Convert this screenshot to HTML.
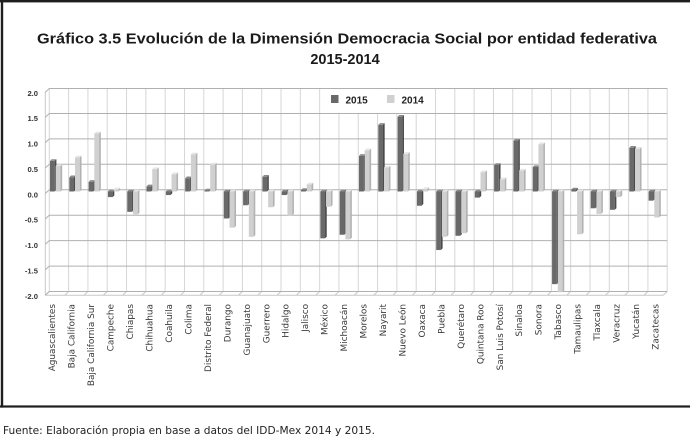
<!DOCTYPE html>
<html><head><meta charset="utf-8"><style>
html,body{margin:0;padding:0;background:#fff;}
svg{display:block;}
.D rect{fill:#696969}.D .s{fill:#4a4a4a}.D .t{fill:#8a8a8a}
.L rect{fill:#d0d0d0}.L .s{fill:#b2b2b2}.L .t{fill:#e6e6e6}
.xl{font-family:"DejaVu Sans","Liberation Sans",sans-serif;font-size:8.9px;fill:#3a3a3a}
.yl{font-family:"Liberation Sans",sans-serif;font-size:7.6px;font-weight:bold;fill:#333;text-anchor:end}
</style></head><body>
<svg width="690" height="441" viewBox="0 0 690 441" xmlns="http://www.w3.org/2000/svg">
<rect x="0" y="0" width="690" height="441" fill="#fff"/>
<!-- frame -->
<rect x="0" y="0" width="690" height="2.4" fill="#1e1e1e"/>
<rect x="0.8" y="0" width="2.4" height="407.6" fill="#1e1e1e"/>
<rect x="0" y="405.4" width="690" height="2.2" fill="#1e1e1e"/>
<!-- title -->
<text x="37" y="43.3" textLength="620" lengthAdjust="spacingAndGlyphs" font-family="Liberation Sans, sans-serif" font-weight="bold" font-size="14.5" fill="#1a1a1a">Gráfico 3.5  Evolución de la Dimensión Democracia Social por entidad federativa</text>
<text x="345" y="64" text-anchor="middle" font-family="Liberation Sans, sans-serif" font-weight="bold" font-size="14.5" fill="#1a1a1a">2015-2014</text>
<!-- vertical gridlines -->
<path fill="none" stroke="#d6d6d6" stroke-width="1" d="M49.3 88V291.5M68.61 88V291.5M87.92 88V291.5M107.23 88V291.5M126.54 88V291.5M145.85 88V291.5M165.16 88V291.5M184.47 88V291.5M203.78 88V291.5M223.09 88V291.5M242.4 88V291.5M261.71 88V291.5M281.02 88V291.5M300.33 88V291.5M319.64 88V291.5M338.95 88V291.5M358.26 88V291.5M377.57 88V291.5M396.88 88V291.5M416.19 88V291.5M435.5 88V291.5M454.81 88V291.5M474.12 88V291.5M493.43 88V291.5M512.74 88V291.5M532.05 88V291.5M551.36 88V291.5M570.67 88V291.5M589.98 88V291.5M609.29 88V291.5M628.6 88V291.5M647.91 88V291.5M667.22 88V291.5"/>
<!-- floor diagonals -->
<path fill="none" stroke="#c8c8c8" stroke-width="1" d="M49.3 291.5L45.3 295.2M68.61 291.5L64.61 295.2M87.92 291.5L83.92 295.2M107.23 291.5L103.23 295.2M126.54 291.5L122.54 295.2M145.85 291.5L141.85 295.2M165.16 291.5L161.16 295.2M184.47 291.5L180.47 295.2M203.78 291.5L199.78 295.2M223.09 291.5L219.09 295.2M242.4 291.5L238.4 295.2M261.71 291.5L257.71 295.2M281.02 291.5L277.02 295.2M300.33 291.5L296.33 295.2M319.64 291.5L315.64 295.2M338.95 291.5L334.95 295.2M358.26 291.5L354.26 295.2M377.57 291.5L373.57 295.2M396.88 291.5L392.88 295.2M416.19 291.5L412.19 295.2M435.5 291.5L431.5 295.2M454.81 291.5L450.81 295.2M474.12 291.5L470.12 295.2M493.43 291.5L489.43 295.2M512.74 291.5L508.74 295.2M532.05 291.5L528.05 295.2M551.36 291.5L547.36 295.2M570.67 291.5L566.67 295.2M589.98 291.5L585.98 295.2M609.29 291.5L605.29 295.2M628.6 291.5L624.6 295.2M647.91 291.5L643.91 295.2M667.22 291.5L663.22 295.2M45.3 295.2H663.22M45.3 91.7V295.2"/>
<!-- horizontal gridlines -->
<path fill="none" stroke="#b0b0b0" stroke-width="1" d="M49.3 88.5H667.2M49.3 113.5H667.2M49.3 138.9H667.2M49.3 164.3H667.2M49.3 189.8H667.2M49.3 215.2H667.2M49.3 240.6H667.2M49.3 266.1H667.2M49.3 291.5H667.2M45.3 92.2L49.3 88.5M45.3 117.2L49.3 113.5M45.3 142.6L49.3 138.9M45.3 168L49.3 164.3M45.3 193.5L49.3 189.8M45.3 218.9L49.3 215.2M45.3 244.3L49.3 240.6M45.3 269.8L49.3 266.1M45.3 295.2L49.3 291.5"/>
<!-- y labels -->
<text class="yl" x="38" y="96">2.0</text>
<text class="yl" x="38" y="121">1.5</text>
<text class="yl" x="38" y="146.4">1.0</text>
<text class="yl" x="38" y="171.8">0.5</text>
<text class="yl" x="38" y="197.3">0.0</text>
<text class="yl" x="38" y="222.7">-0.5</text>
<text class="yl" x="38" y="248.1">-1.0</text>
<text class="yl" x="38" y="273.6">-1.5</text>
<text class="yl" x="38" y="299">-2.0</text>
<!-- legend -->
<rect x="322" y="89.2" width="111" height="23.6" fill="#fff"/>
<rect x="331" y="95" width="7.5" height="8" fill="#696969"/>
<text x="345.5" y="103.3" font-family="Liberation Sans, sans-serif" font-weight="bold" font-size="10" fill="#222">2015</text>
<rect x="387" y="95" width="7.5" height="8" fill="#d0d0d0"/>
<text x="401.5" y="103.3" font-family="Liberation Sans, sans-serif" font-weight="bold" font-size="10" fill="#222">2014</text>
<!-- bars 2015 -->
<g class="D">
<g transform="translate(50,160.93)"><rect width="4.7" height="30.57"/><path class="s" d="M4.7 0l1.7-1.7v30.57l-1.7 1.7z"/><path class="t" d="M0 0l1.7-1.7h4.7l-1.7 1.7z"/></g>
<g transform="translate(69.31,177.22)"><rect width="4.7" height="14.28"/><path class="s" d="M4.7 0l1.7-1.7v14.28l-1.7 1.7z"/><path class="t" d="M0 0l1.7-1.7h4.7l-1.7 1.7z"/></g>
<g transform="translate(88.62,181.8)"><rect width="4.7" height="9.7"/><path class="s" d="M4.7 0l1.7-1.7v9.7l-1.7 1.7z"/><path class="t" d="M0 0l1.7-1.7h4.7l-1.7 1.7z"/></g>
<g transform="translate(107.93,191.5)"><rect width="4.7" height="5.6"/><path class="s" d="M4.7 0l1.7-1.7v5.6l-1.7 1.7z"/><path class="t" d="M0 0l1.7-1.7h4.7l-1.7 1.7z"/></g>
<g transform="translate(127.24,191.5)"><rect width="4.7" height="20.36"/><path class="s" d="M4.7 0l1.7-1.7v20.36l-1.7 1.7z"/><path class="t" d="M0 0l1.7-1.7h4.7l-1.7 1.7z"/></g>
<g transform="translate(146.55,186.38)"><rect width="4.7" height="5.12"/><path class="s" d="M4.7 0l1.7-1.7v5.12l-1.7 1.7z"/><path class="t" d="M0 0l1.7-1.7h4.7l-1.7 1.7z"/></g>
<g transform="translate(165.86,191.5)"><rect width="4.7" height="3.56"/><path class="s" d="M4.7 0l1.7-1.7v3.56l-1.7 1.7z"/><path class="t" d="M0 0l1.7-1.7h4.7l-1.7 1.7z"/></g>
<g transform="translate(185.17,178.24)"><rect width="4.7" height="13.26"/><path class="s" d="M4.7 0l1.7-1.7v13.26l-1.7 1.7z"/><path class="t" d="M0 0l1.7-1.7h4.7l-1.7 1.7z"/></g>
<g transform="translate(204.48,190.45)"><rect width="4.7" height="1.05"/><path class="s" d="M4.7 0l1.7-1.7v1.05l-1.7 1.7z"/><path class="t" d="M0 0l1.7-1.7h4.7l-1.7 1.7z"/></g>
<g transform="translate(223.79,191.5)"><rect width="4.7" height="26.98"/><path class="s" d="M4.7 0l1.7-1.7v26.98l-1.7 1.7z"/><path class="t" d="M0 0l1.7-1.7h4.7l-1.7 1.7z"/></g>
<g transform="translate(243.1,191.5)"><rect width="4.7" height="13.74"/><path class="s" d="M4.7 0l1.7-1.7v13.74l-1.7 1.7z"/><path class="t" d="M0 0l1.7-1.7h4.7l-1.7 1.7z"/></g>
<g transform="translate(262.41,176.71)"><rect width="4.7" height="14.79"/><path class="s" d="M4.7 0l1.7-1.7v14.79l-1.7 1.7z"/><path class="t" d="M0 0l1.7-1.7h4.7l-1.7 1.7z"/></g>
<g transform="translate(281.72,191.5)"><rect width="4.7" height="3.56"/><path class="s" d="M4.7 0l1.7-1.7v3.56l-1.7 1.7z"/><path class="t" d="M0 0l1.7-1.7h4.7l-1.7 1.7z"/></g>
<g transform="translate(301.03,189.95)"><rect width="4.7" height="1.55"/><path class="s" d="M4.7 0l1.7-1.7v1.55l-1.7 1.7z"/><path class="t" d="M0 0l1.7-1.7h4.7l-1.7 1.7z"/></g>
<g transform="translate(320.34,191.5)"><rect width="4.7" height="46.83"/><path class="s" d="M4.7 0l1.7-1.7v46.83l-1.7 1.7z"/><path class="t" d="M0 0l1.7-1.7h4.7l-1.7 1.7z"/></g>
<g transform="translate(339.65,191.5)"><rect width="4.7" height="43.27"/><path class="s" d="M4.7 0l1.7-1.7v43.27l-1.7 1.7z"/><path class="t" d="M0 0l1.7-1.7h4.7l-1.7 1.7z"/></g>
<g transform="translate(358.96,155.84)"><rect width="4.7" height="35.66"/><path class="s" d="M4.7 0l1.7-1.7v35.66l-1.7 1.7z"/><path class="t" d="M0 0l1.7-1.7h4.7l-1.7 1.7z"/></g>
<g transform="translate(378.27,124.79)"><rect width="4.7" height="66.71"/><path class="s" d="M4.7 0l1.7-1.7v66.71l-1.7 1.7z"/><path class="t" d="M0 0l1.7-1.7h4.7l-1.7 1.7z"/></g>
<g transform="translate(397.58,116.65)"><rect width="4.7" height="74.85"/><path class="s" d="M4.7 0l1.7-1.7v74.85l-1.7 1.7z"/><path class="t" d="M0 0l1.7-1.7h4.7l-1.7 1.7z"/></g>
<g transform="translate(416.89,191.5)"><rect width="4.7" height="14.25"/><path class="s" d="M4.7 0l1.7-1.7v14.25l-1.7 1.7z"/><path class="t" d="M0 0l1.7-1.7h4.7l-1.7 1.7z"/></g>
<g transform="translate(436.2,191.5)"><rect width="4.7" height="58.54"/><path class="s" d="M4.7 0l1.7-1.7v58.54l-1.7 1.7z"/><path class="t" d="M0 0l1.7-1.7h4.7l-1.7 1.7z"/></g>
<g transform="translate(455.51,191.5)"><rect width="4.7" height="44.28"/><path class="s" d="M4.7 0l1.7-1.7v44.28l-1.7 1.7z"/><path class="t" d="M0 0l1.7-1.7h4.7l-1.7 1.7z"/></g>
<g transform="translate(474.82,191.5)"><rect width="4.7" height="6.11"/><path class="s" d="M4.7 0l1.7-1.7v6.11l-1.7 1.7z"/><path class="t" d="M0 0l1.7-1.7h4.7l-1.7 1.7z"/></g>
<g transform="translate(494.13,165)"><rect width="4.7" height="26.5"/><path class="s" d="M4.7 0l1.7-1.7v26.5l-1.7 1.7z"/><path class="t" d="M0 0l1.7-1.7h4.7l-1.7 1.7z"/></g>
<g transform="translate(513.44,140.57)"><rect width="4.7" height="50.93"/><path class="s" d="M4.7 0l1.7-1.7v50.93l-1.7 1.7z"/><path class="t" d="M0 0l1.7-1.7h4.7l-1.7 1.7z"/></g>
<g transform="translate(532.75,167.04)"><rect width="4.7" height="24.46"/><path class="s" d="M4.7 0l1.7-1.7v24.46l-1.7 1.7z"/><path class="t" d="M0 0l1.7-1.7h4.7l-1.7 1.7z"/></g>
<g transform="translate(552.06,191.5)"><rect width="4.7" height="92.64"/><path class="s" d="M4.7 0l1.7-1.7v92.64l-1.7 1.7z"/><path class="t" d="M0 0l1.7-1.7h4.7l-1.7 1.7z"/></g>
<g transform="translate(571.37,189.44)"><rect width="4.7" height="2.06"/><path class="s" d="M4.7 0l1.7-1.7v2.06l-1.7 1.7z"/><path class="t" d="M0 0l1.7-1.7h4.7l-1.7 1.7z"/></g>
<g transform="translate(590.68,191.5)"><rect width="4.7" height="16.8"/><path class="s" d="M4.7 0l1.7-1.7v16.8l-1.7 1.7z"/><path class="t" d="M0 0l1.7-1.7h4.7l-1.7 1.7z"/></g>
<g transform="translate(609.99,191.5)"><rect width="4.7" height="18.32"/><path class="s" d="M4.7 0l1.7-1.7v18.32l-1.7 1.7z"/><path class="t" d="M0 0l1.7-1.7h4.7l-1.7 1.7z"/></g>
<g transform="translate(629.3,147.7)"><rect width="4.7" height="43.8"/><path class="s" d="M4.7 0l1.7-1.7v43.8l-1.7 1.7z"/><path class="t" d="M0 0l1.7-1.7h4.7l-1.7 1.7z"/></g>
<g transform="translate(648.61,191.5)"><rect width="4.7" height="9.16"/><path class="s" d="M4.7 0l1.7-1.7v9.16l-1.7 1.7z"/><path class="t" d="M0 0l1.7-1.7h4.7l-1.7 1.7z"/></g>
</g>
<!-- bars 2014 -->
<g class="L">
<g transform="translate(55.7,166.02)"><rect width="4.8" height="25.48"/><path class="s" d="M4.8 0l1.7-1.7v25.48l-1.7 1.7z"/><path class="t" d="M0 0l1.7-1.7h4.8l-1.7 1.7z"/></g>
<g transform="translate(75.01,157.37)"><rect width="4.8" height="34.13"/><path class="s" d="M4.8 0l1.7-1.7v34.13l-1.7 1.7z"/><path class="t" d="M0 0l1.7-1.7h4.8l-1.7 1.7z"/></g>
<g transform="translate(94.32,133.45)"><rect width="4.8" height="58.05"/><path class="s" d="M4.8 0l1.7-1.7v58.05l-1.7 1.7z"/><path class="t" d="M0 0l1.7-1.7h4.8l-1.7 1.7z"/></g>
<g transform="translate(113.63,189.44)"><rect width="4.8" height="2.06"/><path class="s" d="M4.8 0l1.7-1.7v2.06l-1.7 1.7z"/><path class="t" d="M0 0l1.7-1.7h4.8l-1.7 1.7z"/></g>
<g transform="translate(132.94,191.5)"><rect width="4.8" height="22.91"/><path class="s" d="M4.8 0l1.7-1.7v22.91l-1.7 1.7z"/><path class="t" d="M0 0l1.7-1.7h4.8l-1.7 1.7z"/></g>
<g transform="translate(152.25,169.08)"><rect width="4.8" height="22.42"/><path class="s" d="M4.8 0l1.7-1.7v22.42l-1.7 1.7z"/><path class="t" d="M0 0l1.7-1.7h4.8l-1.7 1.7z"/></g>
<g transform="translate(171.56,174.17)"><rect width="4.8" height="17.33"/><path class="s" d="M4.8 0l1.7-1.7v17.33l-1.7 1.7z"/><path class="t" d="M0 0l1.7-1.7h4.8l-1.7 1.7z"/></g>
<g transform="translate(190.87,154.32)"><rect width="4.8" height="37.18"/><path class="s" d="M4.8 0l1.7-1.7v37.18l-1.7 1.7z"/><path class="t" d="M0 0l1.7-1.7h4.8l-1.7 1.7z"/></g>
<g transform="translate(210.18,164.5)"><rect width="4.8" height="27"/><path class="s" d="M4.8 0l1.7-1.7v27l-1.7 1.7z"/><path class="t" d="M0 0l1.7-1.7h4.8l-1.7 1.7z"/></g>
<g transform="translate(229.49,191.5)"><rect width="4.8" height="36.14"/><path class="s" d="M4.8 0l1.7-1.7v36.14l-1.7 1.7z"/><path class="t" d="M0 0l1.7-1.7h4.8l-1.7 1.7z"/></g>
<g transform="translate(248.8,191.5)"><rect width="4.8" height="45.3"/><path class="s" d="M4.8 0l1.7-1.7v45.3l-1.7 1.7z"/><path class="t" d="M0 0l1.7-1.7h4.8l-1.7 1.7z"/></g>
<g transform="translate(268.11,191.5)"><rect width="4.8" height="15.78"/><path class="s" d="M4.8 0l1.7-1.7v15.78l-1.7 1.7z"/><path class="t" d="M0 0l1.7-1.7h4.8l-1.7 1.7z"/></g>
<g transform="translate(287.42,191.5)"><rect width="4.8" height="23.92"/><path class="s" d="M4.8 0l1.7-1.7v23.92l-1.7 1.7z"/><path class="t" d="M0 0l1.7-1.7h4.8l-1.7 1.7z"/></g>
<g transform="translate(306.73,184.35)"><rect width="4.8" height="7.15"/><path class="s" d="M4.8 0l1.7-1.7v7.15l-1.7 1.7z"/><path class="t" d="M0 0l1.7-1.7h4.8l-1.7 1.7z"/></g>
<g transform="translate(326.04,191.5)"><rect width="4.8" height="15.27"/><path class="s" d="M4.8 0l1.7-1.7v15.27l-1.7 1.7z"/><path class="t" d="M0 0l1.7-1.7h4.8l-1.7 1.7z"/></g>
<g transform="translate(345.35,191.5)"><rect width="4.8" height="47.85"/><path class="s" d="M4.8 0l1.7-1.7v47.85l-1.7 1.7z"/><path class="t" d="M0 0l1.7-1.7h4.8l-1.7 1.7z"/></g>
<g transform="translate(364.66,150.24)"><rect width="4.8" height="41.26"/><path class="s" d="M4.8 0l1.7-1.7v41.26l-1.7 1.7z"/><path class="t" d="M0 0l1.7-1.7h4.8l-1.7 1.7z"/></g>
<g transform="translate(383.97,167.55)"><rect width="4.8" height="23.95"/><path class="s" d="M4.8 0l1.7-1.7v23.95l-1.7 1.7z"/><path class="t" d="M0 0l1.7-1.7h4.8l-1.7 1.7z"/></g>
<g transform="translate(403.28,153.81)"><rect width="4.8" height="37.69"/><path class="s" d="M4.8 0l1.7-1.7v37.69l-1.7 1.7z"/><path class="t" d="M0 0l1.7-1.7h4.8l-1.7 1.7z"/></g>
<g transform="translate(422.59,188.93)"><rect width="4.8" height="2.57"/><path class="s" d="M4.8 0l1.7-1.7v2.57l-1.7 1.7z"/><path class="t" d="M0 0l1.7-1.7h4.8l-1.7 1.7z"/></g>
<g transform="translate(441.9,191.5)"><rect width="4.8" height="45.3"/><path class="s" d="M4.8 0l1.7-1.7v45.3l-1.7 1.7z"/><path class="t" d="M0 0l1.7-1.7h4.8l-1.7 1.7z"/></g>
<g transform="translate(461.21,191.5)"><rect width="4.8" height="41.74"/><path class="s" d="M4.8 0l1.7-1.7v41.74l-1.7 1.7z"/><path class="t" d="M0 0l1.7-1.7h4.8l-1.7 1.7z"/></g>
<g transform="translate(480.52,172.13)"><rect width="4.8" height="19.37"/><path class="s" d="M4.8 0l1.7-1.7v19.37l-1.7 1.7z"/><path class="t" d="M0 0l1.7-1.7h4.8l-1.7 1.7z"/></g>
<g transform="translate(499.83,179.26)"><rect width="4.8" height="12.24"/><path class="s" d="M4.8 0l1.7-1.7v12.24l-1.7 1.7z"/><path class="t" d="M0 0l1.7-1.7h4.8l-1.7 1.7z"/></g>
<g transform="translate(519.14,170.6)"><rect width="4.8" height="20.9"/><path class="s" d="M4.8 0l1.7-1.7v20.9l-1.7 1.7z"/><path class="t" d="M0 0l1.7-1.7h4.8l-1.7 1.7z"/></g>
<g transform="translate(538.45,144.14)"><rect width="4.8" height="47.36"/><path class="s" d="M4.8 0l1.7-1.7v47.36l-1.7 1.7z"/><path class="t" d="M0 0l1.7-1.7h4.8l-1.7 1.7z"/></g>
<g transform="translate(557.76,191.5)"><rect width="4.8" height="100.78"/><path class="s" d="M4.8 0l1.7-1.7v100.78l-1.7 1.7z"/><path class="t" d="M0 0l1.7-1.7h4.8l-1.7 1.7z"/></g>
<g transform="translate(577.07,191.5)"><rect width="4.8" height="42.76"/><path class="s" d="M4.8 0l1.7-1.7v42.76l-1.7 1.7z"/><path class="t" d="M0 0l1.7-1.7h4.8l-1.7 1.7z"/></g>
<g transform="translate(596.38,191.5)"><rect width="4.8" height="22.4"/><path class="s" d="M4.8 0l1.7-1.7v22.4l-1.7 1.7z"/><path class="t" d="M0 0l1.7-1.7h4.8l-1.7 1.7z"/></g>
<g transform="translate(615.69,191.5)"><rect width="4.8" height="5.6"/><path class="s" d="M4.8 0l1.7-1.7v5.6l-1.7 1.7z"/><path class="t" d="M0 0l1.7-1.7h4.8l-1.7 1.7z"/></g>
<g transform="translate(635,148.72)"><rect width="4.8" height="42.78"/><path class="s" d="M4.8 0l1.7-1.7v42.78l-1.7 1.7z"/><path class="t" d="M0 0l1.7-1.7h4.8l-1.7 1.7z"/></g>
<g transform="translate(654.31,191.5)"><rect width="4.8" height="25.96"/><path class="s" d="M4.8 0l1.7-1.7v25.96l-1.7 1.7z"/><path class="t" d="M0 0l1.7-1.7h4.8l-1.7 1.7z"/></g>
</g>
<!-- x labels -->
<g class="xl" text-anchor="end">
<text transform="translate(55.2,304) rotate(-90)">Aguascalientes</text>
<text transform="translate(74.66,304) rotate(-90)">Baja California</text>
<text transform="translate(94.12,304) rotate(-90)">Baja California Sur</text>
<text transform="translate(113.58,304) rotate(-90)">Campeche</text>
<text transform="translate(133.04,304) rotate(-90)">Chiapas</text>
<text transform="translate(152.5,304) rotate(-90)">Chihuahua</text>
<text transform="translate(171.96,304) rotate(-90)">Coahuila</text>
<text transform="translate(191.42,304) rotate(-90)">Colima</text>
<text transform="translate(210.88,304) rotate(-90)">Distrito Federal</text>
<text transform="translate(230.34,304) rotate(-90)">Durango</text>
<text transform="translate(249.8,304) rotate(-90)">Guanajuato</text>
<text transform="translate(269.26,304) rotate(-90)">Guerrero</text>
<text transform="translate(288.72,304) rotate(-90)">Hidalgo</text>
<text transform="translate(308.18,304) rotate(-90)">Jalisco</text>
<text transform="translate(327.64,304) rotate(-90)">México</text>
<text transform="translate(347.1,304) rotate(-90)">Michoacán</text>
<text transform="translate(366.56,304) rotate(-90)">Morelos</text>
<text transform="translate(386.02,304) rotate(-90)">Nayarit</text>
<text transform="translate(405.48,304) rotate(-90)">Nuevo León</text>
<text transform="translate(424.94,304) rotate(-90)">Oaxaca</text>
<text transform="translate(444.4,304) rotate(-90)">Puebla</text>
<text transform="translate(463.86,304) rotate(-90)">Querétaro</text>
<text transform="translate(483.32,304) rotate(-90)">Quintana Roo</text>
<text transform="translate(502.78,304) rotate(-90)">San Luis Potosí</text>
<text transform="translate(522.24,304) rotate(-90)">Sinaloa</text>
<text transform="translate(541.7,304) rotate(-90)">Sonora</text>
<text transform="translate(561.16,304) rotate(-90)">Tabasco</text>
<text transform="translate(580.62,304) rotate(-90)">Tamaulipas</text>
<text transform="translate(600.08,304) rotate(-90)">Tlaxcala</text>
<text transform="translate(619.54,304) rotate(-90)">Veracruz</text>
<text transform="translate(639,304) rotate(-90)">Yucatán</text>
<text transform="translate(658.46,304) rotate(-90)">Zacatecas</text>
</g>
<!-- footer -->
<text x="3" y="434" textLength="372" lengthAdjust="spacingAndGlyphs" font-family="DejaVu Sans, Liberation Sans, sans-serif" font-size="10.8" fill="#222">Fuente: Elaboración propia en base a datos del IDD-Mex 2014 y 2015.</text>
</svg>
</body></html>
